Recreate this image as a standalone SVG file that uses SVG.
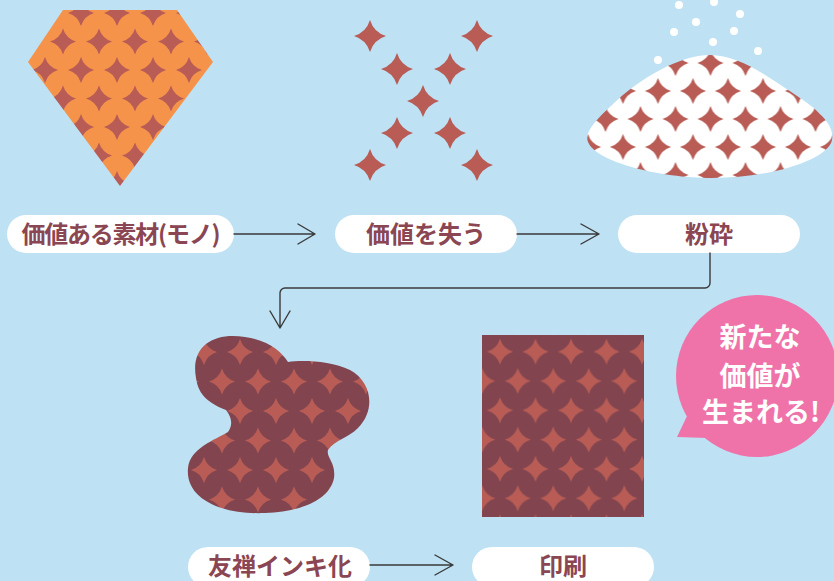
<svg xmlns="http://www.w3.org/2000/svg" xmlns:xlink="http://www.w3.org/1999/xlink" width="834" height="581" viewBox="0 0 834 581">
  <style>
    .pill { fill: #ffffff; }
    .lbl { font-family: "Noto Sans CJK JP", "Noto Sans", sans-serif; font-weight: 700; font-size: 24px; fill: #8a4652; text-anchor: middle; }
    .bubble-txt { font-family: "Noto Sans CJK JP", "Noto Sans", sans-serif; font-weight: 700; font-size: 27px; fill: #ffffff; text-anchor: middle; }
    .conn { fill: none; stroke: #3a3a3a; stroke-width: 1.4; stroke-linecap: round; stroke-linejoin: round; }
    .spark { fill: #b85c55; }
    .dot { fill: #ffffff; }
  </style>
  <defs>
    <!-- four-pointed sparkle with concave arc edges -->
    <path id="spk" d="M0,-13 A19.5,19.5 0 0 0 13,0 A19.5,19.5 0 0 0 0,13 A19.5,19.5 0 0 0 -13,0 A19.5,19.5 0 0 0 0,-13 Z"/>
    <path id="spkBig" d="M0,-16 A24,24 0 0 0 16,0 A24,24 0 0 0 0,16 A24,24 0 0 0 -16,0 A24,24 0 0 0 0,-16 Z"/>

    <pattern id="patOrange" patternUnits="userSpaceOnUse" x="81" y="13" width="36" height="57">
      <rect width="36" height="57" fill="#f5934a"/>
      <g class="spark">
        <use href="#spk"/><use href="#spk" x="36"/><use href="#spk" x="18" y="28.5"/>
        <use href="#spk" y="57"/><use href="#spk" x="36" y="57"/>
      </g>
    </pattern>
    <pattern id="patWhite" patternUnits="userSpaceOnUse" x="710.5" y="63" width="35" height="56">
      <rect width="35" height="56" fill="#ffffff"/>
      <g class="spark">
        <use href="#spk"/><use href="#spk" x="35"/><use href="#spk" x="17.5" y="28"/>
        <use href="#spk" y="56"/><use href="#spk" x="35" y="56"/>
      </g>
    </pattern>
    <pattern id="patBlob" patternUnits="userSpaceOnUse" x="240" y="352" width="36" height="59">
      <rect width="36" height="59" fill="#82454f"/>
      <g class="spark">
        <use href="#spk"/><use href="#spk" x="36"/><use href="#spk" x="18" y="29.5"/>
        <use href="#spk" y="59"/><use href="#spk" x="36" y="59"/>
      </g>
    </pattern>
    <pattern id="patPrint" patternUnits="userSpaceOnUse" x="500" y="351.7" width="35.5" height="58.6">
      <rect width="35.5" height="58.6" fill="#82454f"/>
      <g class="spark">
        <use href="#spk"/><use href="#spk" x="35.5"/><use href="#spk" x="17.75" y="29.3"/>
        <use href="#spk" y="58.6"/><use href="#spk" x="35.5" y="58.6"/>
      </g>
    </pattern>
  </defs>

  <!-- backdrop -->
  <rect width="834" height="581" fill="#bee1f4"/>

  <!-- stage 1: valuable material (gem) -->
  <g id="gem">
    <polygon points="63,10 177,10 213,62 120,186 28,62" fill="url(#patOrange)"/>
  </g>

  <!-- stage 2: scattered sparkles -->
  <g id="sparkles" class="spark">
    <use href="#spkBig" x="370" y="36"/>
    <use href="#spkBig" x="477" y="36"/>
    <use href="#spkBig" x="397" y="69"/>
    <use href="#spkBig" x="450" y="69"/>
    <use href="#spkBig" x="423" y="101"/>
    <use href="#spkBig" x="397" y="133"/>
    <use href="#spkBig" x="450" y="133"/>
    <use href="#spkBig" x="370" y="165"/>
    <use href="#spkBig" x="477" y="165"/>
  </g>

  <!-- stage 3: crushed powder pile with flying grains -->
  <g id="pile">
    <path d="M710,55 C680,55 640,78 612,105 C596,120 584,132 588,142 C596,162 660,178 712,178 C770,178 828,160 832,140 C835,125 818,110 800,98 C770,78 740,55 710,55 Z" fill="url(#patWhite)"/>
    <circle class="dot" cx="679" cy="5" r="4"/>
    <circle class="dot" cx="714" cy="2" r="4"/>
    <circle class="dot" cx="740" cy="14" r="4"/>
    <circle class="dot" cx="696" cy="22" r="4"/>
    <circle class="dot" cx="674" cy="32" r="4"/>
    <circle class="dot" cx="734" cy="31" r="4"/>
    <circle class="dot" cx="713" cy="42" r="4"/>
    <circle class="dot" cx="758" cy="51" r="4"/>
    <circle class="dot" cx="658" cy="60" r="4"/>
  </g>

  <!-- stage 4: ink blob -->
  <g id="ink-blob">
    <path d="M196,378 C190,345 215,332 245,337 C268,340 282,352 288,362 C300,360 330,360 350,370 C372,382 376,410 358,428 C348,438 335,440 328,450 C326,458 336,462 334,478 C330,500 300,512 265,513 C220,515 185,498 188,468 C190,448 215,440 228,432 C233,425 232,418 226,410 C205,402 198,392 196,378 Z" fill="url(#patBlob)"/>
  </g>

  <!-- stage 5: printed sheet -->
  <g id="print-sheet">
    <rect x="482" y="335" width="162" height="182" fill="url(#patPrint)"/>
  </g>

  <!-- labels -->
  <g id="label-material">
    <rect class="pill" x="7" y="215" width="227" height="38" rx="19"/>
    <text class="lbl" x="121" y="243" textLength="199">価値ある素材(モノ)</text>
  </g>
  <g id="label-lose">
    <rect class="pill" x="335" y="215" width="182" height="38" rx="19"/>
    <text class="lbl" x="426" y="243">価値を失う</text>
  </g>
  <g id="label-crush">
    <rect class="pill" x="618" y="215" width="182" height="38" rx="19"/>
    <text class="lbl" x="709" y="243">粉砕</text>
  </g>
  <g id="label-ink">
    <rect class="pill" x="188" y="547" width="182" height="40" rx="20"/>
    <text class="lbl" x="280" y="575">友禅インキ化</text>
  </g>
  <g id="label-print">
    <rect class="pill" x="472" y="547" width="182" height="40" rx="20"/>
    <text class="lbl" x="563" y="575">印刷</text>
  </g>

  <!-- speech bubble -->
  <g id="bubble">
    <polygon points="677,437 688,414 708,438" fill="#ef73a9"/>
    <circle cx="757" cy="376" r="81" fill="#ef73a9"/>
    <text class="bubble-txt" x="760" y="347">新たな</text>
    <text class="bubble-txt" x="760" y="386">価値が</text>
    <text class="bubble-txt" x="761" y="422">生まれる!</text>
  </g>

  <!-- connectors -->
  <g id="connectors" class="conn">
    <path d="M234,234 H315 M298,224 L315,234 L298,244"/>
    <path d="M517,234 H599 M581,224 L599,234 L581,244"/>
    <path d="M710,253 V283 A5,5 0 0 1 705,288 H285 A5,5 0 0 0 280,293 V328 M270,311 L280,328 L290,311"/>
    <path d="M370,565 H453 M435,555 L453,565 L435,575"/>
  </g>
</svg>
